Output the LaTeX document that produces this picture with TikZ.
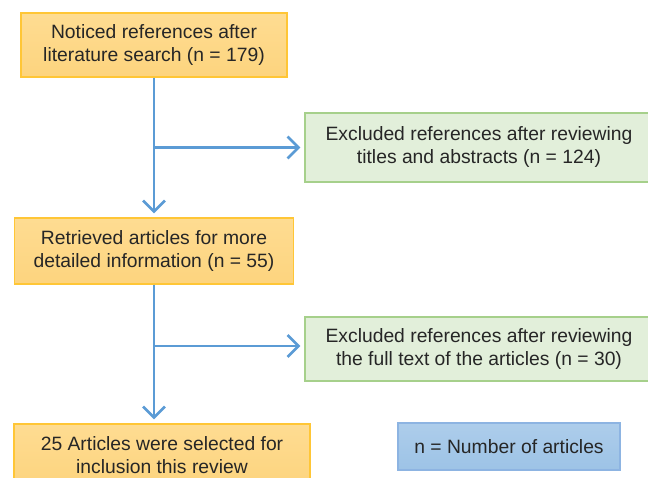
\documentclass[tikz,border=0pt]{standalone}
\usepackage{fontspec}
\setmainfont{Liberation Sans}
\usetikzlibrary{arrows.meta}
\definecolor{orfill}{HTML}{FDD47E}
\definecolor{ortop}{HTML}{FEDC92}
\definecolor{ordraw}{HTML}{FFC636}
\definecolor{grfill}{HTML}{E2EFDA}
\definecolor{grdraw}{HTML}{A6D08B}
\definecolor{blfill}{HTML}{9DC3E6}
\definecolor{bltop}{HTML}{ADCDEB}
\definecolor{bldraw}{HTML}{8DB4E2}
\definecolor{arrcol}{HTML}{5B9BD5}
\definecolor{txt}{HTML}{262626}
\begin{document}
\begin{tikzpicture}[x=1pt,y=-1pt,
  every node/.style={font=\fontsize{19.3}{23}\selectfont, text=txt, align=center, inner sep=0pt},
  orbox/.style={draw=ordraw, line width=1.3pt, top color=ortop, bottom color=orfill},
  grbox/.style={draw=grdraw, line width=1.3pt, fill=grfill},
  blbox/.style={draw=bldraw, line width=1.3pt, top color=bltop, bottom color=blfill},
  arr/.style={draw=arrcol, line width=2.6pt, -{Straight Barb[length=11pt,width=22pt,line width=2.6pt]}}
]
\useasboundingbox (0,0) rectangle (648,478);
\begin{scope}
\clip (0,0) rectangle (648,478);
\node[orbox, minimum width=266pt, minimum height=64pt] (b1) at (154,45)
  {Noticed references after\\literature search (n = 179)};
\node[grbox, minimum width=348pt, minimum height=69pt] (g1) at (479,147.5)
  {Excluded references after reviewing\\titles and abstracts (n = 124)};
\node[orbox, minimum width=279pt, minimum height=66pt] (b2) at (154,251)
  {Retrieved articles for more\\detailed information (n = 55)};
\node[grbox, minimum width=348pt, minimum height=64pt] (g2) at (479,349)
  {Excluded references after reviewing\\the full text of the articles (n = 30)};
\node[orbox, minimum width=296pt, minimum height=62pt] (b3) at (162,455)
  {25 Articles were selected for\\inclusion this review};
\node[blbox, minimum width=222pt, minimum height=47pt] (n) at (509,446.5)
  {n = Number of articles};
\end{scope}
\draw[arr, shorten >=4pt] (b1.south) -- (b1.south |- b2.north);
\draw[arr, shorten >=4pt] (b1.south |- g1.west) -- (g1.west);
\draw[arr, shorten >=4pt] (b2.south) -- (b2.south |- b3.north);
\draw[arr, shorten >=4pt] (b2.south |- 0,346) -- (g2.west |- 0,346);
\end{tikzpicture}
\end{document}
